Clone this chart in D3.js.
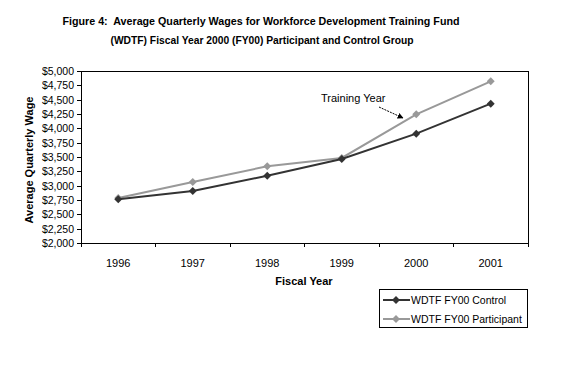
<!DOCTYPE html>
<html>
<head>
<meta charset="utf-8">
<script src="https://cdn.jsdelivr.net/npm/d3@7"></script>
<style>
  body { margin: 0; background: #fff; }
  svg { display: block; font-family: "Liberation Sans", Arial, sans-serif; }
</style>
</head>
<body>
<div id="chart"></div>
<script>
const years = ["1996", "1997", "1998", "1999", "2000", "2001"];
const controlWages = [2762, 2907, 3174, 3465, 3907, 4430];
const participantWages = [2785, 3064, 3338, 3483, 4245, 4820];
const seriesNames = ["WDTF FY00 Control", "WDTF FY00 Participant"];
const yTicks = d3.range(2000, 5001, 250);

const width = 564, height = 387;
const plot = { left: 81, right: 528, top: 71, bottom: 243 };
const colors = ["#333333", "#999999"];

const svg = d3.select("#chart").append("svg")
  .attr("width", width).attr("height", height);

// title
const title = svg.append("text").attr("text-anchor", "middle")
  .attr("font-size", 11.5).attr("font-weight", "bold")
  .style("white-space", "pre");
title.append("tspan").attr("x", 261).attr("y", 25)
  .attr("textLength", 397).attr("lengthAdjust", "spacingAndGlyphs")
  .text("Figure 4:  Average Quarterly Wages for Workforce Development Training Fund");
title.append("tspan").attr("x", 262).attr("y", 44)
  .attr("textLength", 303).attr("lengthAdjust", "spacingAndGlyphs")
  .text("(WDTF) Fiscal Year 2000 (FY00) Participant and Control Group");

const x = d3.scaleBand().domain(years).range([plot.left, plot.right]);
const y = d3.scaleLinear().domain([2000, 5000]).range([plot.bottom, plot.top]);

// plot frame
svg.append("rect")
  .attr("x", plot.left).attr("y", plot.top)
  .attr("width", plot.right - plot.left).attr("height", plot.bottom - plot.top)
  .attr("fill", "none").attr("stroke", "#000").attr("stroke-width", 1)
  .attr("shape-rendering", "crispEdges");

// y axis
const yAxis = svg.append("g").attr("transform", `translate(${plot.left},0)`)
  .call(d3.axisLeft(y).tickValues(yTicks).tickSize(4).tickPadding(3)
    .tickFormat(d => "$" + d3.format(",")(d)));
yAxis.selectAll("path,line").attr("stroke", "#000").attr("shape-rendering", "crispEdges");
yAxis.selectAll("text").attr("font-size", 10.5).attr("fill", "#000")
  .attr("font-family", "Liberation Sans, Arial, sans-serif");

// x axis: ticks at category boundaries
const xAxis = svg.append("g").attr("transform", `translate(0,${plot.bottom})`);
xAxis.append("line").attr("x1", plot.left).attr("x2", plot.right)
  .attr("stroke", "#000").attr("shape-rendering", "crispEdges");
const bounds = years.map(d => x(d)).concat([plot.right]);
xAxis.selectAll(".tk").data(bounds).join("line")
  .attr("x1", d => d).attr("x2", d => d).attr("y1", 0).attr("y2", 4)
  .attr("stroke", "#000").attr("shape-rendering", "crispEdges");
xAxis.selectAll(".lbl").data(years).join("text")
  .attr("x", d => x(d) + x.bandwidth() / 2).attr("y", 24)
  .attr("text-anchor", "middle").attr("font-size", 11).text(d => d);

// axis titles
svg.append("text").attr("font-size", 11).attr("font-weight", "bold")
  .attr("text-anchor", "middle")
  .attr("transform", `translate(33,160) rotate(-90)`)
  .text("Average Quarterly Wage");
svg.append("text").attr("font-size", 11).attr("font-weight", "bold")
  .attr("text-anchor", "middle").attr("x", 304).attr("y", 285)
  .text("Fiscal Year");

// series
const line = d3.line().x((d, i) => x(years[i]) + x.bandwidth() / 2).y(d => y(d));
const diamond = d3.symbol().type(d3.symbolDiamond2).size(40);
const series = [controlWages, participantWages];

[1, 0].forEach(k => {
  const g = svg.append("g");
  g.append("path").datum(series[k]).attr("d", line)
    .attr("fill", "none").attr("stroke", colors[k]).attr("stroke-width", 2);
  g.selectAll("path.m").data(series[k]).join("path").attr("class", "m")
    .attr("d", diamond)
    .attr("transform", (d, i) => `translate(${x(years[i]) + x.bandwidth() / 2},${y(d)})`)
    .attr("fill", colors[k]);
});

// annotation
svg.append("defs").append("marker").attr("id", "arr")
  .attr("viewBox", "0 0 10 10").attr("refX", 9).attr("refY", 5)
  .attr("markerWidth", 6).attr("markerHeight", 6).attr("orient", "auto")
  .append("path").attr("d", "M0,0 L10,5 L0,10 z").attr("fill", "#000");
svg.append("text").attr("x", 321).attr("y", 102).attr("font-size", 11)
  .text("Training Year");
svg.append("line").attr("x1", 379).attr("y1", 107).attr("x2", 403).attr("y2", 118)
  .attr("stroke", "#000").attr("stroke-width", 1).attr("stroke-dasharray", "2,1")
  .attr("marker-end", "url(#arr)");

// legend
const lg = svg.append("g");
lg.append("rect").attr("x", 379.5).attr("y", 289.5).attr("width", 148).attr("height", 38)
  .attr("fill", "#fff").attr("stroke", "#000");
seriesNames.forEach((name, k) => {
  const yy = 300 + k * 19;
  lg.append("line").attr("x1", 383).attr("x2", 410).attr("y1", yy).attr("y2", yy)
    .attr("stroke", colors[k]).attr("stroke-width", 2);
  lg.append("path").attr("d", diamond).attr("transform", `translate(396,${yy})`)
    .attr("fill", colors[k]);
  lg.append("text").attr("x", 411).attr("y", yy + 4).attr("font-size", 10.5).text(name);
});
</script>
</body>
</html>
